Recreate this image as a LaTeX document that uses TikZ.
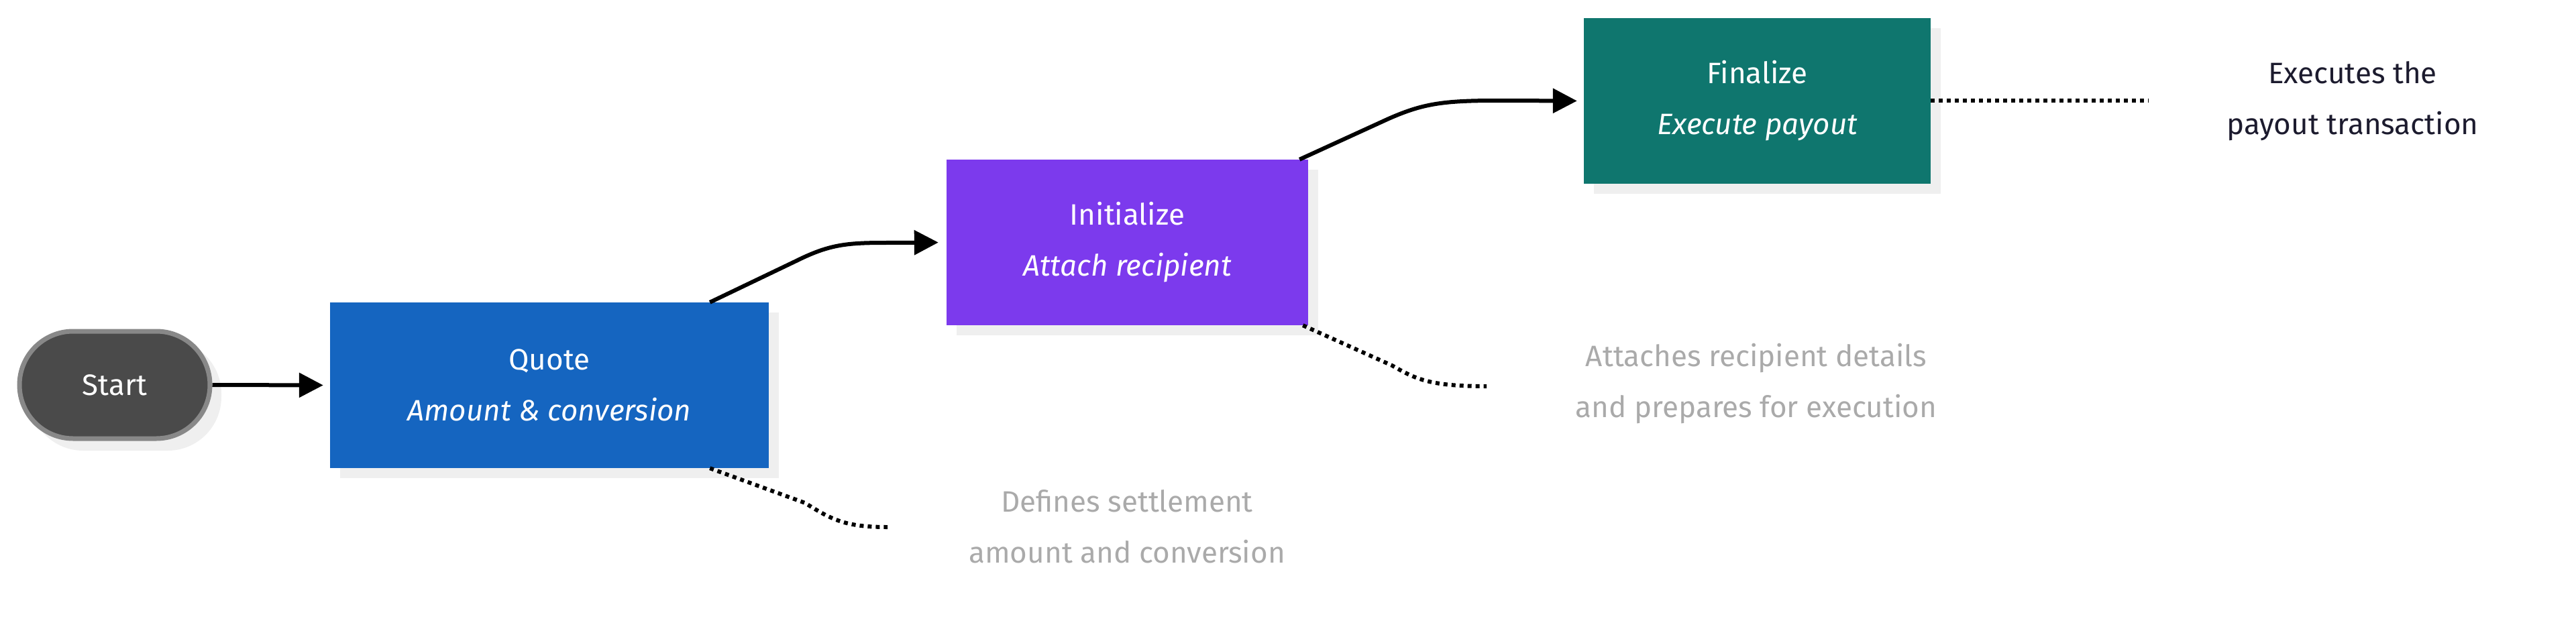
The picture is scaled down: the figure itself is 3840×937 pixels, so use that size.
\documentclass[tikz,border=0pt]{standalone}
\usepackage{fontspec}
\setmainfont{Fira Sans}
\usetikzlibrary{arrows.meta}
\definecolor{cq}{HTML}{1565C0}
\definecolor{ci}{HTML}{7C3AED}
\definecolor{cf}{HTML}{0F766E}
\definecolor{cs}{HTML}{4A4A4A}
\definecolor{csb}{HTML}{888888}
\definecolor{shd}{HTML}{EFEFEF}
\definecolor{dsc}{HTML}{AAAAAA}
\definecolor{dk}{HTML}{1C1B2E}
\tikzset{
  box/.style={draw=none,minimum width=#1,minimum height=247pt,text=white,align=center,font=\fontsize{44}{76}\selectfont,inner sep=0pt},
  shad/.style={fill=shd,draw=none},
  conn/.style={line width=6pt,-{Triangle[length=36pt,width=36pt]}},
  dots/.style={line width=6pt,dash pattern=on 6pt off 6pt},
  desc/.style={align=center,text=dsc,font=\fontsize{44}{76}\selectfont}
}
\begin{document}
\begin{tikzpicture}[x=1pt,y=-1pt]
\useasboundingbox (0,0) rectangle (3840,937);
% shadows
\fill[shd,rounded corners=80pt] (44,507) rectangle (330,672);
\fill[shd] (507,466) rectangle (1161,713);
\fill[shd] (1426,253) rectangle (1965,500);
\fill[shd] (2376,42) rectangle (2893,289);
% nodes
\node[draw=csb,line width=7pt,fill=cs,rounded corners=80pt,minimum width=284pt,minimum height=160pt,text=white,font=\fontsize{44}{76}\selectfont] (s) at (171,574) {Start};
\node[box=654pt,fill=cq] (q) at (819,574.5) {Quote\\\textit{Amount \& conversion}};
\node[box=539pt,fill=ci] (i) at (1680.5,361.5) {Initialize\\\textit{Attach recipient}};
\node[box=517pt,fill=cf] (f) at (2619.5,150.5) {Finalize\\\textit{Execute payout}};
\node[desc] (d1) at (1680,785) {Defines settlement\\amount and conversion};
\node[desc] (d2) at (2618,572) {Attaches recipient details\\and prepares for execution};
\node[desc,text=dk] (d3) at (3507,151) {Executes the\\payout transaction};
\coordinate (e1) at (1323,786);
\coordinate (e2) at (2216,576);
\coordinate (e3) at (3203,150);
% connectors
\draw[conn,shorten >=10pt] (s.east) -- (q.west);
\draw[conn,shorten >=12pt] ([xshift=-88pt]q.north east) -- (1185,390) .. controls (1235,365) and (1260,362) .. (1320,362) -- (i.west);
\draw[conn,shorten >=10pt] ([xshift=-13pt]i.north east) -- (2070,177) .. controls (2120,155) and (2150,150) .. (2230,150) -- (f.west);
\draw[dots] ([xshift=-88pt]q.south east) -- (1200,750) .. controls (1240,775) and (1260,786) .. (e1);
\draw[dots] ([xshift=-8pt]i.south east) -- (2075,545) .. controls (2110,565) and (2130,576) .. (e2);
\draw[dots] (f.east |- e3) -- (e3);
\end{tikzpicture}
\end{document}
